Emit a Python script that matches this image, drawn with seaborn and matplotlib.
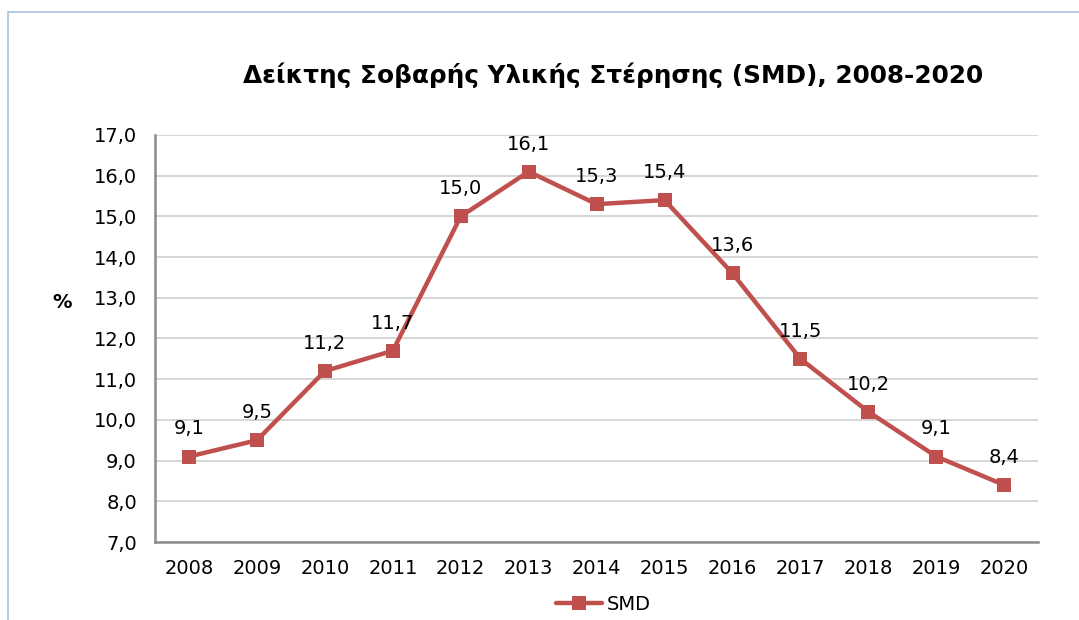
import matplotlib
matplotlib.use('Agg')
import matplotlib.pyplot as plt
import matplotlib.ticker as mticker
from matplotlib.patches import Rectangle
import pandas as pd
import seaborn as sns

YEARS = ['2008', '2009', '2010', '2011', '2012', '2013', '2014',
         '2015', '2016', '2017', '2018', '2019', '2020']
SMD = [9.1, 9.5, 11.2, 11.7, 15.0, 16.1, 15.3, 15.4, 13.6, 11.5, 10.2, 9.1, 8.4]
Y_TICKS = [7, 8, 9, 10, 11, 12, 13, 14, 15, 16, 17]
TITLE = 'Δείκτης Σοβαρής Υλικής Στέρησης (SMD), 2008-2020'
LINE_COLOUR = '#C0504D'

df = pd.DataFrame({'year': YEARS, 'SMD': SMD})

sns.set_style('white')
plt.rcParams['font.family'] = ['DejaVu Sans']
plt.rcParams['text.color'] = 'black'

fig = plt.figure(figsize=(10.79, 6.2), dpi=100)
ax = fig.add_axes([0.1437, 0.1258, 0.8185, 0.6565])

sns.lineplot(data=df, x='year', y='SMD', ax=ax, color=LINE_COLOUR,
             linewidth=3.2, marker='s', markersize=9.5, markeredgewidth=0,
             label='SMD', sort=False)

ax.set_xlim(-0.5, len(YEARS) - 0.5)
ax.set_ylim(7, 17)
ax.set_yticks(Y_TICKS)
ax.yaxis.set_major_formatter(
    mticker.FuncFormatter(lambda v, p: f'{v:.1f}'.replace('.', ',')))
ax.grid(axis='y', color='#D0D0D0', linewidth=1.2)
ax.set_axisbelow(True)
ax.tick_params(axis='both', labelsize=14, length=0, colors='black')
ax.tick_params(axis='y', pad=13)
ax.tick_params(axis='x', pad=12)
ax.set_xlabel('')
ax.set_ylabel('')

for side in ['top', 'right']:
    ax.spines[side].set_visible(False)
for side in ['left', 'bottom']:
    ax.spines[side].set_color('#8C8C8C')
    ax.spines[side].set_linewidth(1.8)

# value labels above the points
for i, v in enumerate(SMD):
    ax.annotate(f'{v:.1f}'.replace('.', ','), (i, v), xytext=(0, 13),
                textcoords='offset points', ha='center', va='bottom',
                fontsize=14, color='black')

fig.text(62 / 1079, 1 - 302 / 620, '%', fontsize=14, fontweight='bold',
         ha='center', va='center')
fig.text(613 / 1079, 1 - 75 / 620, TITLE, fontsize=17.8, fontweight='bold',
         ha='center', va='center')

leg = ax.legend(loc='center', bbox_to_anchor=(603 / 1079, 1 - 604 / 620),
                bbox_transform=fig.transFigure, frameon=False, fontsize=14,
                handlelength=2.4, handletextpad=0.2)

# outer chart frame
fig.patches.append(Rectangle((7.5 / 1079, -0.05), 1.2, 1 - 11.5 / 620 + 0.05,
                             transform=fig.transFigure, fill=False,
                             edgecolor='#A9C1E3', linewidth=1.2))

fig.savefig('out.png', dpi=100)
